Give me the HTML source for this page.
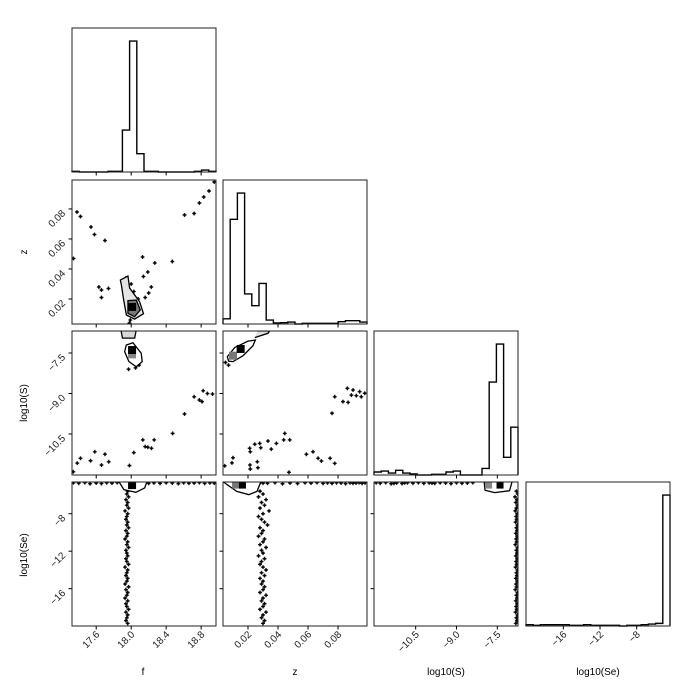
<!DOCTYPE html>
<html><head><meta charset="utf-8"><style>
html,body{margin:0;padding:0;background:#fff;}
svg{display:block;font-family:"Liberation Sans",sans-serif;}
</style></head><body>
<svg id="c" width="698" height="698" viewBox="0 0 698 698"></svg>
<script>
// ---------- data ----------
const histF = [0.005,0,0,0,0,0.005,0.005,0.32,1.0,0.14,0.005,0.005,0,0,0,0,0,0.005,0.015,0.005];
const histZ = [0.04,0.80,1.0,0.23,0.14,0.31,0.03,0.008,0.01,0.015,0,0.005,0.005,0.005,0.005,0.005,0.018,0.025,0.025,0.015];
const histS = [0.023,0.03,0.015,0.036,0.015,0.008,0,0,0.005,0.005,0.023,0.03,0,0,0,0.05,0.71,1.0,0.135,0.365];
const histSe = [0.01,0.005,0.01,0.01,0.01,0.01,0.005,0.005,0.01,0.005,0.005,0.005,0.005,0,0.005,0.005,0.01,0.015,0.02,1.0];

const fzF = [17.38,17.42,17.54,17.58,17.70,17.34,17.63,17.66,17.66,17.74,18.13,18.14,18.19,18.27,18.23,18.16,18.20,18.47,18.61,18.72,18.78,18.83,18.89,18.95,17.98,18.03,18.08,17.94,18.05,17.99,18.07,18.00,17.96];
const fzZ = [0.078,0.075,0.068,0.063,0.059,0.047,0.028,0.026,0.021,0.027,0.048,0.035,0.038,0.044,0.028,0.021,0.024,0.045,0.076,0.077,0.084,0.088,0.092,0.098,0.004,0.025,0.020,0.034,0.009,0.006,0.016,0.030,0.012];

const fsF = [17.383,17.42,17.535,17.584,17.70,17.66,17.743,17.338,17.98,18.03,18.133,18.16,18.19,18.232,18.263,18.474,18.61,18.72,18.78,18.823,18.872,18.93,18.81,18.05,18.09,17.97,18.02];
const fsS = [-11.58,-11.40,-11.49,-11.16,-11.25,-11.65,-11.53,-11.90,-11.67,-11.19,-10.72,-10.97,-10.99,-11.03,-10.72,-10.48,-9.76,-9.12,-9.24,-8.90,-9.0,-9.02,-9.30,-8.05,-7.95,-8.10,-7.85];

const zsZ = [0.0045,0.010,0.0093,0.0211,0.0215,0.0245,0.0278,0.0285,0.0262,0.0266,0.0215,0.0213,0.0333,0.0355,0.0389,0.0445,0.0438,0.0478,0.0473,0.0589,0.0633,0.0667,0.0689,0.0747,0.0778,0.076,0.0778,0.0833,0.0867,0.0862,0.09,0.0889,0.0922,0.0944,0.0978,0.0955,0.005,0.007];
const zsS = [-11.68,-11.38,-11.57,-11.03,-11.16,-10.88,-10.85,-11.01,-11.53,-11.75,-11.80,-11.65,-10.76,-11.06,-10.85,-10.48,-10.72,-10.72,-11.92,-11.25,-11.16,-11.40,-11.50,-11.40,-11.59,-9.73,-9.12,-9.30,-9.33,-8.81,-8.87,-9.06,-9.08,-8.93,-8.99,-9.12,-7.85,-7.95];

const stripeSe = [-5.6,-5.9,-6.2,-6.5,-6.8,-7.1,-7.4,-7.7,-8.0,-8.3,-8.6,-8.9,-9.2,-9.5,-9.8,-10.1,-10.4,-10.7,-11.0,-11.3,-11.6,-11.9,-12.2,-12.5,-12.8,-13.1,-13.4,-13.7,-14.0,-14.3,-14.6,-14.9,-15.2,-15.5,-15.8,-16.1,-16.4,-16.7,-17.0,-17.3,-17.6,-17.9,-18.2,-18.5,-18.8,-19.1,-19.4,-19.7];
const stripeF = [17.96,17.95,17.97,17.94,17.96,17.95,17.97,17.93,17.96,17.95,17.94,17.96,17.95,17.97,17.94,17.96,17.95,17.93,17.96,17.95,17.97,17.94,17.95,17.96,17.94,17.95,17.97,17.93,17.96,17.95,17.94,17.96,17.95,17.93,17.97,17.94,17.96,17.95,17.93,17.96,17.94,17.95,17.97,17.94,17.96,17.95,17.94,17.96];
const stripeZ = [0.028,0.030,0.027,0.032,0.029,0.031,0.028,0.034,0.030,0.027,0.029,0.031,0.033,0.028,0.030,0.029,0.027,0.031,0.030,0.028,0.032,0.029,0.030,0.027,0.031,0.029,0.028,0.030,0.032,0.029,0.031,0.028,0.030,0.029,0.031,0.030,0.028,0.032,0.030,0.029,0.031,0.030,0.028,0.032,0.030,0.029,0.031,0.030];
const stripeS = [-6.80,-6.75,-6.85,-6.78,-6.82,-6.76,-6.80,-6.84,-6.77,-6.81,-6.79,-6.83,-6.76,-6.80,-6.78,-6.82,-6.77,-6.81,-6.79,-6.84,-6.76,-6.80,-6.78,-6.82,-6.77,-6.81,-6.79,-6.83,-6.76,-6.80,-6.78,-6.82,-6.77,-6.81,-6.79,-6.84,-6.76,-6.80,-6.78,-6.82,-6.77,-6.81,-6.79,-6.83,-6.76,-6.80,-6.78,-6.82];

const bandSe = [-4.70,-4.75,-4.68,-4.80,-4.72,-4.78,-4.70,-4.74,-4.69,-4.77,-4.71,-4.76,-4.70,-4.73,-4.79,-4.70,-4.75,-4.72,-4.68,-4.77,-4.71,-4.74];
const bandF = [17.34,17.40,17.47,17.53,17.60,17.66,17.72,17.78,17.84,18.20,18.26,18.33,18.40,18.47,18.54,18.60,18.66,18.72,18.78,18.84,18.90,18.95];
const bandZ = [0.028,0.033,0.038,0.043,0.048,0.053,0.058,0.062,0.066,0.070,0.073,0.076,0.079,0.082,0.085,0.088,0.090,0.092,0.094,0.096,0.098,0.030];
const bandS = [-11.95,-11.80,-11.60,-11.40,-11.20,-11.00,-10.80,-10.60,-10.40,-10.20,-10.00,-9.80,-9.60,-9.40,-9.20,-9.00,-8.80,-8.60,-8.40,-11.30,-10.90,-9.90];

const cFZoutF = [17.876,17.963,17.982,18.096,18.141,18.039,17.945,17.914,17.888];
const cFZoutZ = [0.0326,0.0353,0.0273,0.0182,0.0102,0.0066,0.0093,0.0193,0.0293];
const cFZinF = [17.963,18.058,18.104,18.039,17.963];
const cFZinZ = [0.0189,0.0193,0.0127,0.0082,0.0104];
const cFSF = [17.944,18.02,18.115,18.126,18.058,17.974,17.925];
const cFSS = [-7.204,-7.12,-7.51,-7.82,-8.01,-7.82,-7.45];
const cZSZ = [0.0062,0.0111,0.0200,0.0249,0.0233,0.0167,0.0100,0.0071];
const cZSS = [-7.64,-7.30,-7.06,-7.02,-7.23,-7.60,-7.82,-7.80];
const cZS2Z = [0.0245,0.0333,0.0344,0.0262];
const cZS2S = [-6.93,-6.77,-6.685,-6.685];
const cFSeF = [17.862,17.917,18.054,18.154,18.18];
const cFSeSe = [-4.62,-5.44,-5.72,-5.25,-4.62];
const cZSeZ = [0.0036,0.0125,0.0206,0.026,0.0285];
const cZSeSe = [-4.62,-5.62,-5.97,-5.62,-4.62];
const cSSeS = [-7.98,-7.95,-7.60,-7.05,-6.96];
const cSSeSe = [-4.62,-5.50,-5.75,-5.55,-4.62];

const ticksF = [17.6,18.0,18.4,18.8];
const ticksFLab = ["17.6","18.0","18.4","18.8"];
const ticksZ = [0.02,0.04,0.06,0.08];
const ticksZLab = ["0.02","0.04","0.06","0.08"];
const ticksS = [-10.5,-9.0,-7.5];
const ticksSLab = ["\u221210.5","\u22129.0","\u22127.5"];
const ticksSe = [-16,-12,-8];
const ticksSeLab = ["\u221216","\u221212","\u22128"];

// ---------- layout ----------
const NS="http://www.w3.org/2000/svg";
const svg=document.getElementById('c');
const colX=[72,223,374,526], rowY=[28,180,331,482], W=144, H=144;
const domX={f:[17.323,18.97],z:[0.00333,0.0993],S:[-12.03,-6.74],Se:[-20.07,-4.37]};
const domY={z:[0.00333,0.0993],S:[-12.02,-6.685],Se:[-19.98,-4.62]};
const vars=['f','z','S','Se'];
function sx(v,c,val){const d=domX[v];return colX[c]+(val-d[0])/(d[1]-d[0])*W;}
function sy(v,r,val){const d=domY[v];return rowY[r]+H-(val-d[0])/(d[1]-d[0])*H;}
function el(tag,attrs,parent){const e=document.createElementNS(NS,tag);for(const k in attrs)e.setAttribute(k,attrs[k]);(parent||svg).appendChild(e);return e;}
function panelGroup(name){const g=el('g',{});return g;}

function hist(c,counts,name){
  const g=panelGroup(name);
  const base=rowY[c]+H, mx=Math.max(...counts)*1.1, bw=W/counts.length;
  let d='M'+colX[c]+','+base;
  counts.forEach((v,i)=>{const y=base-v/mx*H;d+=' L'+(colX[c]+i*bw)+','+y+' L'+(colX[c]+(i+1)*bw)+','+y;});
  d+=' L'+(colX[c]+W)+','+base;
  const p=el('path',{d:d,fill:'none',stroke:'#000','stroke-width':1.4},g);
  
  
}
function pts(c,r,xa,ya,name,g){
  xa.forEach((xv,i)=>{
    const x=sx(vars[c],c,xv), y=sy(vars[r],r,ya[i]);
    const m=el('path',{d:`M${x-2},${y} h4 M${x},${y-2} v4`,stroke:'#000','stroke-width':1.3,'stroke-opacity':0.85},g);
    
    
    const dot=el('circle',{cx:x,cy:y,r:1.3,fill:'#000','fill-opacity':0.8},g);
    
    
  });
}
function poly(c,r,xa,ya,fill,name,g,close){
  const d=xa.map((xv,i)=>(i?'L':'M')+sx(vars[c],c,xv)+','+sy(vars[r],r,ya[i])).join(' ')+(close?' Z':'');
  const p=el('path',{d:d,fill:fill,stroke:'#000','stroke-width':1.3},g);
  
  
}
function sq(c,r,xv,yv,s,fill,name,g){
  const x=sx(vars[c],c,xv), y=sy(vars[r],r,yv);
  const q=el('rect',{x:x-s/2,y:y-s/2,width:s,height:s,fill:fill},g);
  
  
}

const defs=el('defs',{});
for(let r=0;r<4;r++)for(let c=0;c<4;c++){const cp=el('clipPath',{id:'cp'+r+c},defs);el('rect',{x:colX[c],y:rowY[r],width:W,height:H},cp);}

hist(0,histF,'hist-f');hist(1,histZ,'hist-z');hist(2,histS,'hist-logS');hist(3,histSe,'hist-logSe');

function panel2(r,c,name,fn){const g=panelGroup(name);g.setAttribute('clip-path',`url(#cp${r}${c})`);fn(g);}
panel2(1,0,'panel-f-z',g=>{pts(0,1,fzF,fzZ,'fz',g);poly(0,1,cFZoutF,cFZoutZ,'#e4e4e4','contour-outer',g,true);poly(0,1,cFZinF,cFZinZ,'#777','contour-inner',g,true);sq(0,1,18.01,0.0147,8,'#000','peak',g);});
panel2(2,0,'panel-f-logS',g=>{pts(0,2,fsF,fsS,'fs',g);poly(0,2,[17.88,17.90,18.04,18.06],[-6.6,-6.95,-6.95,-6.6],'#d8d8d8','contour-top',g,true);poly(0,2,cFSF,cFSS,'#fff','contour-outer',g,true);sq(0,2,18.01,-7.55,8,'#888','grey-cell',g);sq(0,2,18.01,-7.39,8,'#000','peak',g);});
panel2(2,1,'panel-z-logS',g=>{pts(1,2,zsZ,zsS,'zs',g);poly(1,2,cZS2Z,cZS2S,'#e0e0e0','contour-top',g,false);poly(1,2,cZSZ,cZSS,'#fff','contour-outer',g,true);sq(1,2,0.0100,-7.60,8,'#777','grey-cell',g);sq(1,2,0.0151,-7.35,8,'#000','peak',g);});
panel2(3,0,'panel-f-logSe',g=>{pts(0,3,stripeF,stripeSe,'fse',g);pts(0,3,bandF,bandSe,'fse-top',g);poly(0,3,cFSeF,cFSeSe,'#fff','contour-top',g,false);sq(0,3,18.01,-4.95,8,'#000','peak',g);});
panel2(3,1,'panel-z-logSe',g=>{pts(1,3,stripeZ,stripeSe,'zse',g);pts(1,3,bandZ,bandSe,'zse-top',g);poly(1,3,cZSeZ,cZSeSe,'#fff','contour-top',g,false);sq(1,3,0.0117,-4.95,7,'#777','grey-cell',g);sq(1,3,0.0163,-4.95,7,'#000','peak',g);});
panel2(3,2,'panel-logS-logSe',g=>{pts(2,3,stripeS,stripeSe,'sse',g);pts(2,3,bandS,bandSe,'sse-top',g);poly(2,3,cSSeS,cSSeSe,'#fff','contour-top',g,false);sq(2,3,-7.82,-4.95,7,'#888','grey-cell',g);sq(2,3,-7.40,-4.95,7,'#000','peak',g);});

const tickSets={f:[ticksF,ticksFLab],z:[ticksZ,ticksZLab],S:[ticksS,ticksSLab],Se:[ticksSe,ticksSeLab]};
for(let r=0;r<4;r++)for(let c=0;c<=r;c++){
  const fr=el('rect',{x:colX[c],y:rowY[r],width:W,height:H,fill:'none',stroke:'#222','stroke-width':1});
  
  
  const xv=vars[c];const [tv,tl]=tickSets[xv];
  tv.forEach((t,i)=>{const x=sx(xv,c,t);el('line',{x1:x,x2:x,y1:rowY[r]+H,y2:rowY[r]+H+3.5,stroke:'#000','stroke-width':1});
    if(r===3){const tx=el('text',{x:x+4,y:rowY[r]+H+9,'font-size':10,'text-anchor':'end',fill:'#222',transform:`rotate(-45 ${x+4} ${rowY[r]+H+9})`});tx.textContent=tl[i];
      
      }});
  if(c!==r){const yv=vars[r];const [yt,yl]=tickSets[yv];
    yt.forEach((t,i)=>{const y=sy(yv,r,t);el('line',{x1:colX[c]-3.5,x2:colX[c],y1:y,y2:y,stroke:'#000','stroke-width':1});
      if(c===0){const tx=el('text',{x:66,y:y+5,'font-size':10,'text-anchor':'end',fill:'#222',transform:`rotate(-45 66 ${y+5})`});tx.textContent=yl[i];
        
        }});}
}
const xl=[['f',143],['z',295],['log10(S)',446],['log10(Se)',598]];
xl.forEach(a=>{const t=el('text',{x:a[1],y:675,'font-size':10,'text-anchor':'middle'});t.textContent=a[0];
  
  });
const yl=[['z',252],['log10(S)',403],['log10(Se)',555]];
yl.forEach(a=>{const t=el('text',{x:27,y:a[1],'font-size':10,'text-anchor':'middle',transform:`rotate(-90 27 ${a[1]})`});t.textContent=a[0];
  
  });
</script>
</body></html>
